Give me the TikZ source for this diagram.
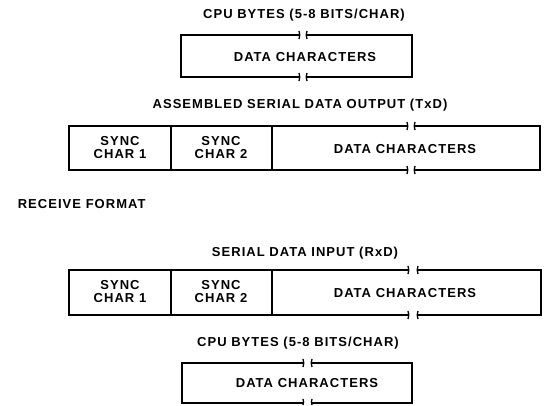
\documentclass[tikz,border=0pt]{standalone}
\usepackage{fontspec}
\setmainfont{Liberation Sans}[LetterSpace=8]
\begin{document}
\begin{tikzpicture}[x=1pt,y=-1pt,line width=1.6pt,
  lbl/.style={font=\fontsize{13}{13}\selectfont\bfseries,inner sep=0pt,align=center},
  tick/.style={line width=1.3pt}]
\useasboundingbox[fill=white] (0,0) rectangle (551,405);
% ---------- top: CPU bytes ----------
\node[lbl] (t1) at (304,15) {CPU BYTES (5-8 BITS/CHAR)};
\coordinate (a1) at (181,35); \coordinate (a2) at (412,77);
\draw (299,35) -- (a1) |- (299,77);
\draw (307,35) -| (a2) -- (307,77);
\draw[tick] (299,31) to[bend left=20] (299,39) (307,31) to[bend right=20] (307,39)
            (299,73) to[bend left=20] (299,81) (307,73) to[bend right=20] (307,81);
\node[lbl] (d1) at (305,57) {DATA CHARACTERS};
% ---------- TxD ----------
\node[lbl] (t2) at (300,105) {ASSEMBLED SERIAL DATA OUTPUT (TxD)};
\coordinate (b1) at (69,126); \coordinate (b2) at (540,170);
\draw (407,126) -- (b1) |- (407,170);
\draw (415,126) -| (b2) -- (415,170);
\draw (171,126) -- (171,170) (272,126) -- (272,170);
\draw[tick] (407,122) to[bend left=20] (407,130) (415,122) to[bend right=20] (415,130)
            (407,166) to[bend left=20] (407,174) (415,166) to[bend right=20] (415,174);
\node[lbl] (s1) at (120,148) {SYNC\\CHAR 1};
\node[lbl] (s2) at (221,148) {SYNC\\CHAR 2};
\node[lbl] (d2) at (405,149) {DATA CHARACTERS};
% ---------- receive ----------
\node[lbl,anchor=west] (rf) at (17,204) {RECEIVE FORMAT};
\node[lbl] (t3) at (305,253) {SERIAL DATA INPUT (RxD)};
\coordinate (c1) at (69,270); \coordinate (c2) at (541,315);
\draw (408,270) -- (c1) |- (408,315);
\draw (418,270) -| (c2) -- (418,315);
\draw (171,270) -- (171,315) (272,270) -- (272,315);
\draw[tick] (408,266) to[bend left=20] (408,274) (418,266) to[bend right=20] (418,274)
            (408,311) to[bend left=20] (408,319) (418,311) to[bend right=20] (418,319);
\node[lbl] (s3) at (120,292) {SYNC\\CHAR 1};
\node[lbl] (s4) at (221,292) {SYNC\\CHAR 2};
\node[lbl] (d3) at (405,293) {DATA CHARACTERS};
% ---------- bottom: CPU bytes ----------
\node[lbl] (t4) at (298,343) {CPU BYTES (5-8 BITS/CHAR)};
\coordinate (e1) at (182,363); \coordinate (e2) at (412,403);
\draw (303,363) -- (e1) |- (303,403);
\draw (312,363) -| (e2) -- (312,403);
\draw[tick] (303,359) to[bend left=20] (303,367) (312,359) to[bend right=20] (312,367)
            (303,399) to[bend left=20] (303,405) (312,399) to[bend right=20] (312,405);
\node[lbl] (d4) at (307,383) {DATA CHARACTERS};
\end{tikzpicture}
\end{document}
